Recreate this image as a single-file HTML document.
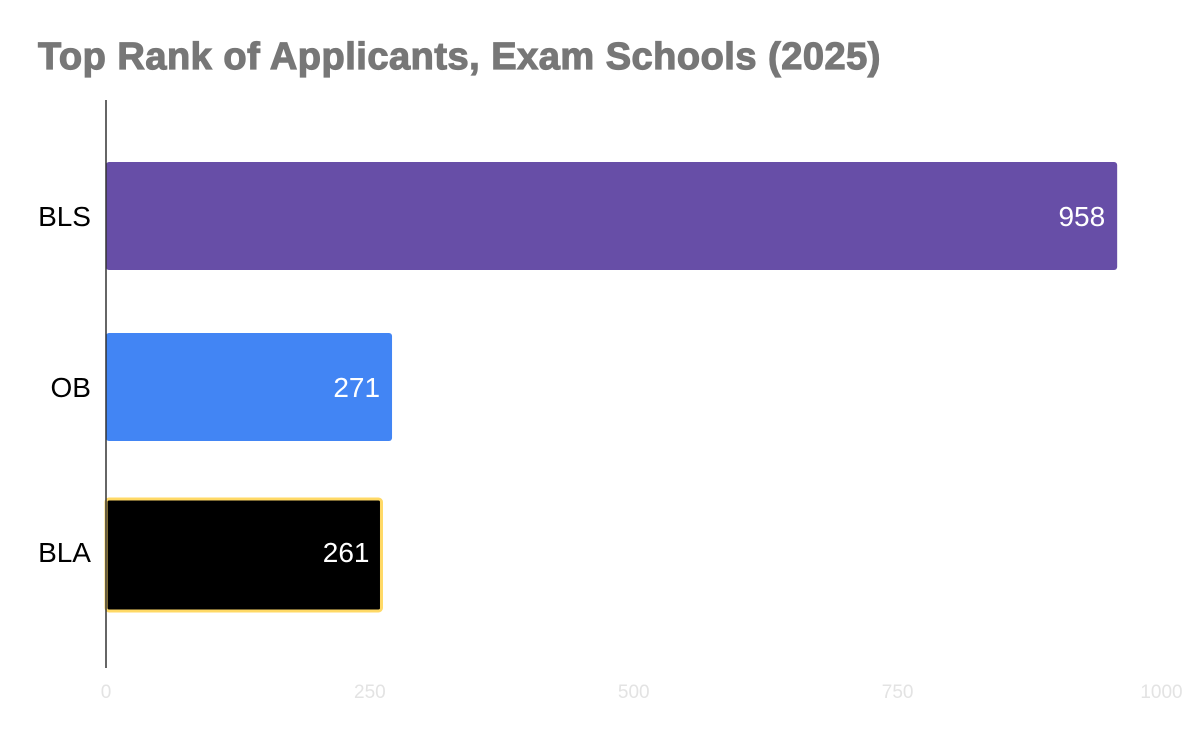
<!DOCTYPE html>
<html><head><meta charset="utf-8"><style>
body{margin:0;background:#fff;width:1200px;height:742px;overflow:hidden}
svg text{font-family:"Liberation Sans",sans-serif}
</style></head><body>
<svg width="1200" height="742" xmlns="http://www.w3.org/2000/svg">
<text x="38" y="69" font-size="38" font-weight="bold" fill="#777" style="font-family:'Liberation Sans',sans-serif;letter-spacing:0.5px" stroke="#777" stroke-width="1.2">Top Rank of Applicants, Exam Schools (2025)</text>
<g id="ticks"></g>
<g id="bars"></g>
<line x1="106" y1="100" x2="106" y2="668" stroke="#333" stroke-width="1.5"/>
</svg>
<script>
const categories = ["BLS", "OB", "BLA"];
const values = [958, 271, 261];
const tickValues = [0, 250, 500, 750, 1000];
const fills = ["#674ea7", "#4285f4", "#000000"];
const ns = "http://www.w3.org/2000/svg";
const x = v => 106 + v * 1.0555;
const bandTop = [162, 333, 498];
const bandH = 108;
const ticksG = document.getElementById("ticks");
tickValues.forEach(t => {
  const tx = document.createElementNS(ns, "text");
  
  
  tx.setAttribute("x", x(t)); tx.setAttribute("y", 698);
  tx.setAttribute("text-anchor", "middle"); tx.setAttribute("font-size", "19");
  tx.setAttribute("fill", "#e3e3e3"); tx.textContent = t;
  ticksG.appendChild(tx);
});
const barsG = document.getElementById("bars");
categories.forEach((c, i) => {
  const y0 = bandTop[i];
  const r = document.createElementNS(ns, "rect");
  
  
  r.setAttribute("x", 106); r.setAttribute("y", y0);
  r.setAttribute("width", x(values[i]) - 106); r.setAttribute("height", bandH);
  r.setAttribute("rx", 3); r.setAttribute("fill", fills[i]);
  if (c === "BLA") { r.setAttribute("stroke", "#ffd966"); r.setAttribute("stroke-width", "3"); r.setAttribute("y", y0 + 1); r.setAttribute("height", bandH + 4); }
  barsG.appendChild(r);
  const vl = document.createElementNS(ns, "text");
  
  
  vl.setAttribute("x", x(values[i]) - 12); vl.setAttribute("y", y0 + bandH / 2 + 10);
  vl.setAttribute("text-anchor", "end"); vl.setAttribute("font-size", "28");
  vl.setAttribute("fill", "#fff"); vl.textContent = values[i];
  barsG.appendChild(vl);
  const cl = document.createElementNS(ns, "text");
  
  
  cl.setAttribute("x", 91); cl.setAttribute("y", y0 + bandH / 2 + 10);
  cl.setAttribute("text-anchor", "end"); cl.setAttribute("font-size", "28");
  cl.setAttribute("fill", "#000"); cl.textContent = c;
  barsG.appendChild(cl);
});
</script>
</body></html>
